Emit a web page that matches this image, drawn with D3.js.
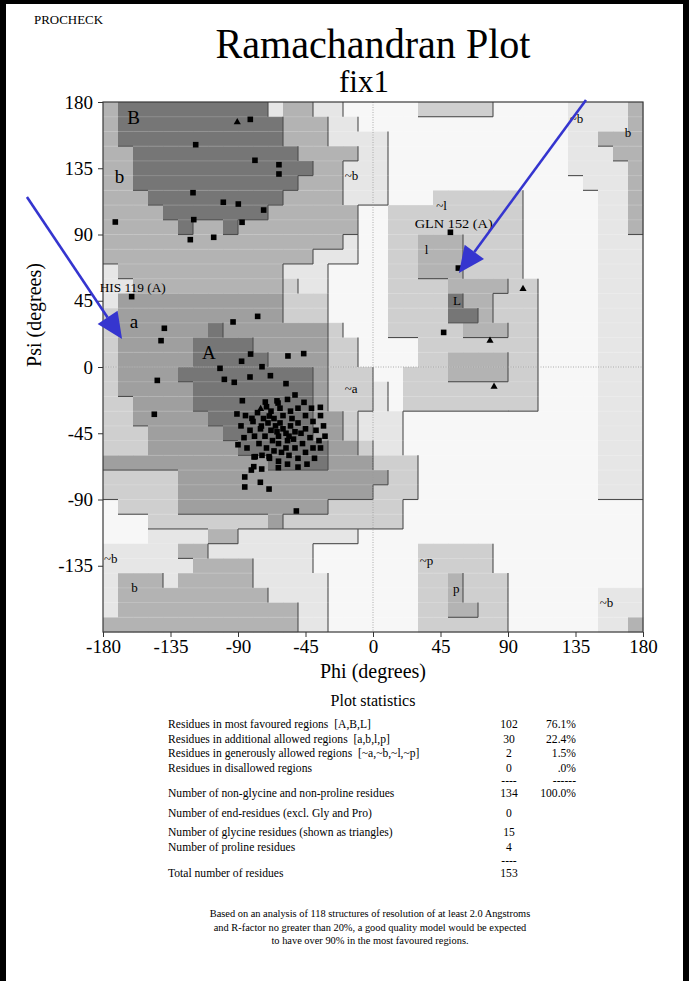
<!DOCTYPE html>
<html><head><meta charset="utf-8">
<script src="https://cdn.jsdelivr.net/npm/d3@7"></script>
<style>
body{margin:0;background:#fff;}
svg{display:block;}
text{font-family:"Liberation Serif","Times New Roman",serif;fill:#000;white-space:pre;}
</style>
</head><body>
<svg id="c" width="689" height="981"></svg>
<script>
// ---------- DATA ----------
// Region map: 36 rows (psi 180 -> -180, 10 deg each) x 36 cols (phi -180 -> 180)
// 5 = most favoured, 4/3 = additional allowed, 2/1 = generously allowed, 0 = disallowed
const regionRows = [
"355555555551331100000222220000011113",
"355555555555333110000000000000011113",
"355555555555333111100000000000011333",
"335555555555533331100000000000011133",
"335555555555553311100000000000011113",
"335555555555533311100000000000001113",
"333555555555333311100022222200000113",
"333355555553333330022222222200000113",
"333335335333333330022222222200000113",
"333333333333333310022333222200000111",
"333333333333331110022333222200000111",
"133333333333111000022333222200000111",
"113333333333211000022223333220000111",
"144444444444222000022225332220000111",
"244444444444222000022225532220000111",
"244444454444444200022222333220000111",
"244444555544444220000222222220000111",
"244444555554444220000223333220000111",
"244445555555554222002223333220000111",
"244444555555554222102222222220000111",
"224444555555554222102222222220000111",
"224444455555554421110000000000000111",
"222444445555554421110000000000000111",
"222444444555555442110000000000000111",
"444444444445555444222000000000000111",
"222224444444444444422000000000000111",
"222224444444444444222000000000000111",
"022224444444444222220000000000000000",
"000222222224222222220000000000000000",
"000111133111111110000000000000000000",
"111113311111110000000222220000000000",
"111111333311110000000222220000000000",
"133313333311111000000223222000000000",
"133333333331111000000223222000000111",
"133333333333311000000223322000000111",
"333333333333311000000222222000000113"
];
const regionShades = ["#f7f7f7","#e6e6e6","#cfcfcf","#b3b3b3","#9f9f9f","#767676"];

const psiTicks = [180,135,90,45,0,-45,-90,-135];
const phiTicks = [-180,-135,-90,-45,0,45,90,135,180];

// non-glycine residues (phi, psi) drawn as squares
const residues = [
[-81.8,168.2],[-118.2,151],[-78.7,140.4],[-62.7,137.4],[-62.7,131.1],[-120,118.4],
[-99.8,111.9],[-89.8,110.7],[-72.9,106.6],[-119.5,100.1],[-87.3,98.3],[-171.8,98.5],
[-121.8,86.5],[-106.2,88.1],[-160.9,47.8],[-139.1,26.3],[-141.3,17.9],[-93.3,30.6],
[-76.9,34.4],[-81.6,8.8],[-87.6,3.9],[-74,0.2],[-102,-0.9],[-99.1,-8.4],[-92.5,-10.4],
[-82,-6.8],[-68.4,-5.9],[-143.8,-9.1],[-87.1,-22.9],[-71.8,-23.8],[-63.3,-24.5],
[-90.7,-31.9],[-80.7,-34.9],[-69.1,-33.3],[-145.8,-32.1],[-74.4,-40.1],[-90,-52.8],
[-79.3,-61.1],[-56.7,7.5],[-46.2,9.1],[-58,-11.3],[-35.1,-27.4],[47.1,23.5],[51.6,91.5],
[56.9,67.2],[-78.5,-60.9],[-69.3,-60.9],[-63.1,-68.4],[-79.5,-67.7],[-81.1,-70],
[-74.2,-69.3],[-85.5,-74.7],[-85.5,-81.5],[-75.1,-78.3],[-69.3,-82.9],[-51.1,-97.8],
[-65,-40],[-60,-42],[-62,-38],[-58,-45],[-55,-40],[-52,-44],[-57,-50],[-63,-47],
[-68,-43],[-70,-38],[-66,-35],[-60,-33],[-54,-35],[-50,-38],[-48,-45],[-45,-42],
[-42,-48],[-47,-52],[-52,-55],[-58,-55],[-63,-52],[-67,-50],[-72,-47],[-75,-42],
[-73,-35],[-68,-30],[-62,-28],[-55,-30],[-50,-28],[-45,-33],[-40,-37],[-38,-43],
[-36,-50],[-40,-55],[-45,-58],[-50,-62],[-56,-60],[-61,-58],[-66,-57],[-71,-55],
[-76,-52],[-79,-47],[-82,-43],[-80,-37],[-77,-31],[-71,-27],[-64,-23],[-57,-22],
[-52,-19],[-46,-24],[-41,-28],[-35,-33],[-33,-40],[-32,-47],[-35,-55],[-39,-62],
[-44,-66],[-50,-68],[-57,-66],[-63,-64],[-69,-62],[-74,-60],[-84,-55],[-86,-48],
[-88,-40],[-85,-33],[-56,-47],[-64,-44],[-53,-49]
];
// glycines (triangles)
const glycines = [[-90.5,166.3],[-74.9,-28.5],[100,53],[78,17.9],[80.7,-13.4]];

const regionLabels = [
{t:"B",phi:-163.8,psi:164.9,big:true},{t:"b",phi:-172.2,psi:124.8,big:true},
{t:"a",phi:-162.2,psi:26.3,big:true},{t:"A",phi:-114,psi:5.4,big:true},
{t:"L",phi:53.3,psi:42.1},{t:"l",phi:34.5,psi:76.6},{t:"~l",phi:42.2,psi:106.6},
{t:"~b",phi:-18.9,psi:127},{t:"~a",phi:-18.9,psi:-17.9},{t:"~b",phi:-179.3,psi:-133.3},
{t:"b",phi:-161.1,psi:-152.6},{t:"~p",phi:31.1,psi:-134.5},{t:"p",phi:53.3,psi:-153.5},
{t:"~b",phi:151.1,psi:-163.2},{t:"b",phi:167.8,psi:156.4},{t:"~b",phi:131.1,psi:165.5}
];
const residueLabels = [
{t:"GLN 152 (A)",phi:27.8,psi:94.2,w:78},{t:"HIS 119 (A)",phi:-182.2,psi:50.7,w:66}
];
const arrows = [
{phi1:-230.7,psi1:115.5,phi2:-167.3,psi2:19},
{phi1:142,psi1:181.4,phi2:57.3,psi2:63.9}
];

const statLabels = [
"Residues in most favoured regions  [A,B,L]",
"Residues in additional allowed regions  [a,b,l,p]",
"Residues in generously allowed regions  [~a,~b,~l,~p]",
"Residues in disallowed regions",
"",
"Number of non-glycine and non-proline residues",
"Number of end-residues (excl. Gly and Pro)",
"Number of glycine residues (shown as triangles)",
"Number of proline residues",
"",
"Total number of residues"];
const statCounts = ["102","30","2","0","----","134","0","15","4","----","153"];
const statPcts = ["76.1%","22.4%","1.5%",".0%","------","100.0%","","","","",""];
const footnote = [
"Based on an analysis of 118 structures of resolution of at least 2.0 Angstroms",
"and R-factor no greater than 20%, a good quality model would be expected",
"to have over 90% in the most favoured regions."];

// ---------- DRAW ----------
const svg = d3.select("#c");
const x = d3.scaleLinear().domain([-180,180]).range([103,643]);
const y = d3.scaleLinear().domain([-180,180]).range([632,102]);

// page border
svg.append("rect").attr("x",0).attr("y",0).attr("width",689).attr("height",4).attr("fill","#000");
svg.append("rect").attr("x",0).attr("y",0).attr("width",6).attr("height",981).attr("fill","#000");
svg.append("rect").attr("x",683).attr("y",0).attr("width",6).attr("height",981).attr("fill","#000");

// region cells
const lvl = (r,c) => +regionRows[r][c];
const cells = [];
for (let r=0;r<36;r++) for (let c=0;c<36;c++) cells.push({r,c,v:lvl(r,c)});
svg.append("g").selectAll("rect").data(cells).join("rect")
  .attr("x", d => x(-180+10*d.c))
  .attr("y", d => y(180-10*d.r))
  .attr("width", d => x(-170+10*d.c)-x(-180+10*d.c)+0.4)
  .attr("height", d => y(170-10*d.r)-y(180-10*d.r)+0.4)
  .attr("fill", d => regionShades[d.v]);

// faint row seams
const seam = svg.append("g");
for (let r=1;r<36;r++){
  seam.append("line").attr("x1",x(-180)).attr("x2",x(180))
    .attr("y1",y(180-10*r)).attr("y2",y(180-10*r))
    .attr("stroke","#fff").attr("stroke-opacity",0.18).attr("stroke-width",1);
}

// boundary shadow lines
const segs = [];
for (let r=0;r<36;r++) for (let c=0;c<36;c++){
  const v = lvl(r,c);
  if (c<35 && v>lvl(r,c+1)) segs.push([-170+10*c,180-10*r,-170+10*c,170-10*r]);
  if (r<35 && v>lvl(r+1,c)) segs.push([-180+10*c,170-10*r,-170+10*c,170-10*r]);
}
svg.append("g").selectAll("line").data(segs).join("line")
  .attr("x1",d=>x(d[0])).attr("y1",d=>y(d[1])).attr("x2",d=>x(d[2])).attr("y2",d=>y(d[3]))
  .attr("stroke","#4d4d4d").attr("stroke-width",1.1);

// zero lines
svg.append("line").attr("x1",x(0)).attr("x2",x(0)).attr("y1",y(180)).attr("y2",y(-180))
  .attr("stroke","#9a9a9a").attr("stroke-dasharray","1,1.5").attr("stroke-width",0.8);
svg.append("line").attr("x1",x(-180)).attr("x2",x(180)).attr("y1",y(0)).attr("y2",y(0))
  .attr("stroke","#9a9a9a").attr("stroke-dasharray","1,1.5").attr("stroke-width",0.8);

// frame
svg.append("rect").attr("x",x(-180)).attr("y",y(180)).attr("width",x(180)-x(-180)).attr("height",y(-180)-y(180))
  .attr("fill","none").attr("stroke","#3a3a3a").attr("stroke-width",1.2);

// axes
const ax = svg.append("g").attr("transform",`translate(${x(-180)},0)`)
  .call(d3.axisLeft(y).tickValues(psiTicks).tickSize(5).tickSizeOuter(0).tickPadding(5).tickFormat(d=>String(d)));
const bx = svg.append("g").attr("transform",`translate(0,${y(-180)})`)
  .call(d3.axisBottom(x).tickValues(phiTicks).tickSize(5).tickSizeOuter(0).tickPadding(3).tickFormat(d=>String(d)));
[ax,bx].forEach(a=>{
  a.select(".domain").remove();
  a.selectAll("line").attr("stroke","#333");
  a.selectAll("text").style("font-family",'"Liberation Serif",serif').style("font-size","19px").attr("fill","#000");
});

// axis titles
svg.append("text").attr("x",373).attr("y",678).attr("text-anchor","middle").style("font-size","20px").text("Phi (degrees)");
svg.append("text").attr("transform","translate(41,315) rotate(-90)").attr("text-anchor","middle").style("font-size","20px").text("Psi (degrees)");

// titles
svg.append("text").attr("x",34).attr("y",24).style("font-size","12.5px").attr("textLength",69).attr("lengthAdjust","spacingAndGlyphs").text("PROCHECK");
svg.append("text").attr("x",373).attr("y",58).attr("text-anchor","middle").style("font-size","42px")
  .attr("textLength",315).attr("lengthAdjust","spacingAndGlyphs").text("Ramachandran Plot");
svg.append("text").attr("x",364).attr("y",92).attr("text-anchor","middle").style("font-size","31px").text("fix1");

// region labels (grayscale anti-aliasing)
const lab = svg.append("g").attr("opacity",0.999);
lab.selectAll("text.rl").data(regionLabels).join("text").attr("class","rl")
  .attr("x",d=>x(d.phi)).attr("y",d=>y(d.psi)).attr("fill","#000")
  .style("font-size",d=>d.big?"19px":"13px").text(d=>d.t);
lab.selectAll("text.res").data(residueLabels).join("text").attr("class","res")
  .attr("x",d=>x(d.phi)).attr("y",d=>y(d.psi)).attr("fill","#000")
  .style("font-size","13px").attr("textLength",d=>d.w).attr("lengthAdjust","spacingAndGlyphs").text(d=>d.t);

// points
svg.append("g").selectAll("rect").data(residues).join("rect")
  .attr("x",d=>x(d[0])-2.8).attr("y",d=>y(d[1])-2.8).attr("width",5.6).attr("height",5.6).attr("fill","#000");
svg.append("g").selectAll("path").data(glycines).join("path")
  .attr("transform",d=>`translate(${x(d[0])},${y(d[1])})`)
  .attr("d",d3.symbol(d3.symbolTriangle,22)).attr("fill","#000");

// arrows
const ag = svg.append("g");
arrows.forEach(a=>{
  const x1=x(a.phi1), y1=y(a.psi1), x2=x(a.phi2), y2=y(a.psi2);
  const ang=Math.atan2(y2-y1,x2-x1), L=26, W=12;
  const bxp=x2-L*Math.cos(ang), byp=y2-L*Math.sin(ang);
  ag.append("line").attr("x1",x1).attr("y1",y1).attr("x2",bxp).attr("y2",byp)
    .attr("stroke","#3535cf").attr("stroke-width",2.6);
  const px=-Math.sin(ang), py=Math.cos(ang);
  ag.append("path").attr("d",`M${x2},${y2}L${bxp+W*px},${byp+W*py}L${bxp-W*px},${byp-W*py}Z`).attr("fill","#3535cf");
});

// statistics
svg.append("text").attr("x",373).attr("y",706).attr("text-anchor","middle").style("font-size","16px").text("Plot statistics");
const statY = [728,743,757,772,784,797,817,836,851,864,877];
const st = svg.append("g").style("font-size","11.6px");
statLabels.forEach((t,i)=>{
  if (t) st.append("text").attr("x",168).attr("y",statY[i]).text(t);
  st.append("text").attr("x",509).attr("y",statY[i]).attr("text-anchor","middle").text(statCounts[i]);
  if (statPcts[i]) st.append("text").attr("x",576).attr("y",statY[i]).attr("text-anchor","end").text(statPcts[i]);
});
const fy=[917,931,944];
footnote.forEach((t,i)=>{
  svg.append("text").attr("x",370).attr("y",fy[i]).attr("text-anchor","middle").style("font-size","10.4px").text(t);
});
</script>
</body></html>
